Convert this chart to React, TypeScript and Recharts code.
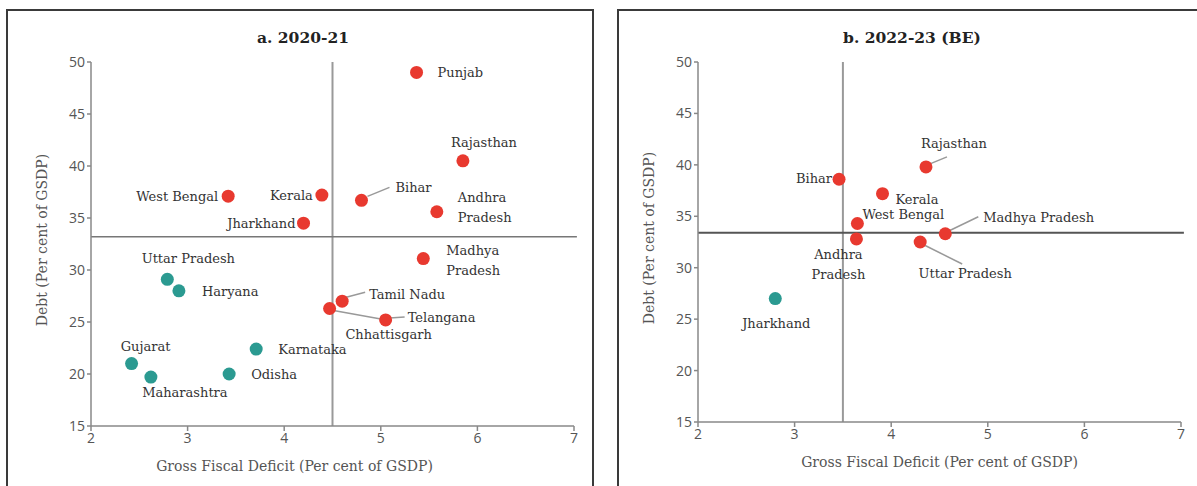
import React from 'react';
import { ScatterChart, Scatter, XAxis, YAxis, ReferenceLine, Label } from 'recharts';

// Panel a: 2020-21
const statesA = ['Punjab', 'Rajasthan', 'West Bengal', 'Kerala', 'Bihar', 'Andhra Pradesh', 'Jharkhand', 'Madhya Pradesh', 'Tamil Nadu', 'Chhattisgarh', 'Telangana', 'Uttar Pradesh', 'Haryana', 'Karnataka', 'Gujarat', 'Odisha', 'Maharashtra'];
const gfdA = [5.37, 5.85, 3.42, 4.39, 4.8, 5.58, 4.2, 5.44, 4.6, 4.47, 5.05, 2.79, 2.91, 3.71, 2.42, 3.43, 2.62];
const debtA = [49.0, 40.5, 37.1, 37.2, 36.7, 35.6, 34.5, 31.1, 27.0, 26.3, 25.2, 29.1, 28.0, 22.4, 21.0, 20.0, 19.7];
const highA = [true, true, true, true, true, true, true, true, true, true, true, false, false, false, false, false, false];
const avgGfdA = 4.5;
const avgDebtA = 33.2;

// Panel b: 2022-23 (BE)
const statesB = ['Rajasthan', 'Bihar', 'Kerala', 'West Bengal', 'Madhya Pradesh', 'Andhra Pradesh', 'Uttar Pradesh', 'Jharkhand'];
const gfdB = [4.36, 3.46, 3.91, 3.65, 4.56, 3.64, 4.3, 2.8];
const debtB = [39.8, 38.6, 37.2, 34.3, 33.3, 32.8, 32.5, 27.0];
const highB = [true, true, true, true, true, true, true, false];
const avgGfdB = 3.5;
const avgDebtB = 33.4;

const xTicks = [2, 3, 4, 5, 6, 7];
const yTicks = [15, 20, 25, 30, 35, 40, 45, 50];

const RED = '#e8392f';
const TEAL = '#2b9a91';
const SERIF = '"DejaVu Serif", serif';

type Place = { dx: number; dy: number; anchor?: 'start' | 'middle' | 'end'; lines?: string[]; leader?: number[] };

// label placement, in pixels relative to the marker
const placeA: Record<string, Place> = {
  'Punjab': { dx: 21, dy: 5 },
  'Rajasthan': { dx: 21, dy: -14, anchor: 'middle' },
  'West Bengal': { dx: -10, dy: 5, anchor: 'end' },
  'Kerala': { dx: -9, dy: 5, anchor: 'end' },
  'Bihar': { dx: 34, dy: -8, leader: [6, -4, 28, -13] },
  'Andhra Pradesh': { dx: 21, dy: -10, lines: ['Andhra', 'Pradesh'] },
  'Jharkhand': { dx: -8, dy: 5, anchor: 'end' },
  'Madhya Pradesh': { dx: 23, dy: -4, lines: ['Madhya', 'Pradesh'] },
  'Tamil Nadu': { dx: 27, dy: -2, leader: [4, -4, 23, -9] },
  'Chhattisgarh': { dx: 59, dy: 31, anchor: 'middle', leader: [4, 2, 54, 11] },
  'Telangana': { dx: 22, dy: 2, leader: [4, -2, 19, -3] },
  'Uttar Pradesh': { dx: 21, dy: -16, anchor: 'middle' },
  'Haryana': { dx: 23, dy: 5 },
  'Karnataka': { dx: 22, dy: 5 },
  'Gujarat': { dx: 14, dy: -13, anchor: 'middle' },
  'Odisha': { dx: 22, dy: 5 },
  'Maharashtra': { dx: 34, dy: 20, anchor: 'middle' },
};

const placeB: Record<string, Place> = {
  'Rajasthan': { dx: 28, dy: -19, anchor: 'middle', leader: [4, -3, 21, -10] },
  'Bihar': { dx: -7, dy: 4, anchor: 'end' },
  'Kerala': { dx: 13, dy: 10 },
  'West Bengal': { dx: 5, dy: -4 },
  'Madhya Pradesh': { dx: 38, dy: -12, leader: [4, -3, 33, -17] },
  'Andhra Pradesh': { dx: -18, dy: 20, anchor: 'middle', lines: ['Andhra', 'Pradesh'] },
  'Uttar Pradesh': { dx: 45, dy: 36, anchor: 'middle', leader: [4, 3, 42, 22] },
  'Jharkhand': { dx: 1, dy: 29, anchor: 'middle' },
};

const build = (names: string[], xs: number[], ys: number[], hi: boolean[], high: boolean) =>
  names.map((name, i) => ({ name, x: xs[i], y: ys[i], high: hi[i] })).filter((d) => d.high === high);

const makeShape = (place: Record<string, Place>, color: string) => (props: any) => {
  const { cx, cy, payload } = props;
  const p = place[payload.name] || { dx: 10, dy: 5 };
  const lines = p.lines || [payload.name];
  const l = p.leader;
  return (
    <g>
      {l && <line x1={cx + l[0]} y1={cy + l[1]} x2={cx + l[2]} y2={cy + l[3]} stroke="#999" strokeWidth={1.5} />}
      <circle cx={cx} cy={cy} r={6.5} fill={color} />
      <text x={cx + p.dx} y={cy + p.dy} textAnchor={p.anchor || 'start'} fontFamily={SERIF} fontSize={13} fill="#333">
        {lines.map((t, i) => (
          <tspan key={t} x={cx + p.dx} dy={i === 0 ? 0 : 20}>{t}</tspan>
        ))}
      </text>
    </g>
  );
};

const YTitle = (props: any) => {
  const { viewBox } = props;
  const x = viewBox.x - 18;
  const y = viewBox.y + viewBox.height / 2 - 4;
  return (
    <text x={x} y={y} transform={`rotate(-90 ${x} ${y})`} textAnchor="middle" dominantBaseline="middle" fontFamily={SERIF} fontSize={14} fill="#555">
      Debt (Per cent of GSDP)
    </text>
  );
};

const XTitle = (props: any) => {
  const { viewBox, shift } = props;
  return (
    <text x={viewBox.x + viewBox.width / 2 + shift} y={viewBox.y + viewBox.height + 15} textAnchor="middle" fontFamily={SERIF} fontSize={14} fill="#555">
      Gross Fiscal Deficit (Per cent of GSDP)
    </text>
  );
};

type PanelProps = {
  title: string;
  titleX: number;
  xTitleShift: number;
  high: any[];
  low: any[];
  place: Record<string, Place>;
  avgX: number;
  avgY: number;
  width: number;
  margin: { top: number; right: number; bottom: number; left: number };
  hWidth: number;
  hColor: string;
};

function Panel({ title, titleX, xTitleShift, high, low, place, avgX, avgY, width, margin, hWidth, hColor }: PanelProps) {
  const axisProps = {
    axisLine: { stroke: '#888', strokeWidth: 1.5 },
    tickLine: { stroke: '#888', strokeWidth: 1.5 },
    tick: { fill: '#555', fontSize: 14, fontFamily: '"Open Sans", sans-serif' },
  };
  return (
    <ScatterChart width={width} height={486} margin={margin}>
      <text x={titleX} y={43} textAnchor="middle" fontFamily={SERIF} fontSize={15.5} fontWeight="bold" fill="#222">
        {title}
      </text>
      <XAxis type="number" dataKey="x" domain={[2, 7]} ticks={xTicks} height={30} tickSize={5} {...axisProps}>
        <Label content={<XTitle shift={xTitleShift} />} />
      </XAxis>
      <YAxis type="number" dataKey="y" domain={[15, 50]} ticks={yTicks} width={30} tickSize={4} {...axisProps}>
        <Label content={<YTitle />} />
      </YAxis>
      <ReferenceLine x={avgX} stroke="#999" strokeWidth={2} />
      <ReferenceLine segment={[{ x: 2, y: avgY }, { x: 7.03, y: avgY }]} stroke={hColor} strokeWidth={hWidth} ifOverflow="visible" />
      <Scatter data={high} shape={makeShape(place, RED)} isAnimationActive={false} />
      <Scatter data={low} shape={makeShape(place, TEAL)} isAnimationActive={false} />
    </ScatterChart>
  );
}

export default function App() {
  return (
    <div style={{ position: 'absolute', left: 0, top: 0, width: 1197, height: 486, overflow: 'hidden', background: '#fff' }}>
      <div style={{ position: 'absolute', left: 6, top: 9, width: 584, height: 490, border: '2px solid #3a3a3a' }} />
      <div style={{ position: 'absolute', left: 617, top: 9, width: 640, height: 490, border: '2px solid #3a3a3a' }} />
      <div style={{ position: 'absolute', left: 0, top: 0 }}>
        <Panel
          title="a. 2020-21"
          titleX={303}
          xTitleShift={-38}
          high={build(statesA, gfdA, debtA, highA, true)}
          low={build(statesA, gfdA, debtA, highA, false)}
          place={placeA}
          avgX={avgGfdA}
          avgY={avgDebtA}
          width={600}
          margin={{ top: 62, right: 26, bottom: 30, left: 61 }}
          hWidth={1.5}
          hColor="#777"
        />
      </div>
      <div style={{ position: 'absolute', left: 600, top: 0 }}>
        <Panel
          title="b. 2022-23 (BE)"
          titleX={312}
          xTitleShift={0}
          high={build(statesB, gfdB, debtB, highB, true)}
          low={build(statesB, gfdB, debtB, highB, false)}
          place={placeB}
          avgX={avgGfdB}
          avgY={avgDebtB}
          width={597}
          margin={{ top: 62, right: 16, bottom: 34, left: 68 }}
          hWidth={2}
          hColor="#555"
        />
      </div>
    </div>
  );
}
